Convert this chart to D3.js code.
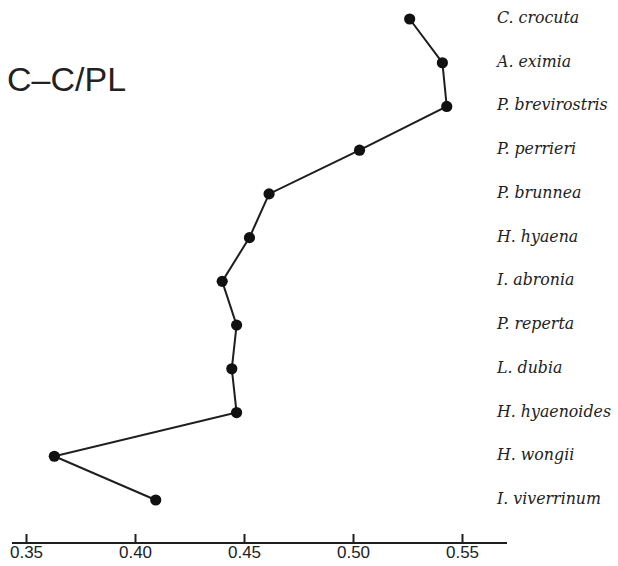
<!DOCTYPE html>
<html>
<head>
<meta charset="utf-8">
<script src="https://cdn.jsdelivr.net/npm/d3@7"></script>
<style>
  html, body { margin: 0; padding: 0; background: #fff; }
  svg { display: block; }
</style>
</head>
<body>
<svg id="chart" width="618" height="566"></svg>
<script>
// Species, top to bottom
const species = [
  "C. crocuta", "A. eximia", "P. brevirostris", "P. perrieri",
  "P. brunnea", "H. hyaena", "I. abronia", "P. reperta",
  "L. dubia", "H. hyaenoides", "H. wongii", "I. viverrinum"
];
// C–C/PL ratio for each species
const ratio = [
  0.526, 0.541, 0.543, 0.503,
  0.4615, 0.4525, 0.440, 0.4466,
  0.4444, 0.4466, 0.363, 0.4095
];
const tickValues = [0.35, 0.40, 0.45, 0.50, 0.55];
const title = "C\u2013C/PL";

const svg = d3.select("#chart");
const ink = "#1e1e1e";

const x = d3.scaleLinear().domain([0.35, 0.55]).range([26, 462]);
const y = d3.scalePoint().domain(species).range([19, 500]);

const data = species.map((s, i) => ({ s, v: ratio[i] }));

// Title
svg.append("text")
  .attr("x", 7).attr("y", 91)
  .attr("font-family", "Liberation Sans, Arial, sans-serif")
  .attr("font-size", 34)
  .attr("fill", "#222")
  .text(title);

// Connecting line
svg.append("path")
  .datum(data)
  .attr("fill", "none")
  .attr("stroke", ink)
  .attr("stroke-width", 2)
  .attr("d", d3.line().x(d => x(d.v)).y(d => y(d.s)));

// Points
svg.selectAll("circle.pt")
  .data(data)
  .join("circle")
  .attr("class", "pt")
  .attr("cx", d => x(d.v))
  .attr("cy", d => y(d.s))
  .attr("r", 5.6)
  .attr("fill", "#111");

// Species labels
svg.selectAll("text.sp")
  .data(data)
  .join("text")
  .attr("class", "sp")
  .attr("x", 497)
  .attr("y", d => y(d.s) + 4)
  .attr("font-family", "DejaVu Serif, serif")
  .attr("font-style", "italic")
  .attr("font-size", 15.8)
  .attr("fill", "#222")
  .text(d => d.s);

// Bottom axis
const axisY = 543;
const axis = d3.axisBottom(x)
  .tickValues(tickValues)
  .tickFormat(d3.format(".2f"))
  .tickSizeInner(-9)
  .tickSizeOuter(0);

const g = svg.append("g")
  .attr("transform", `translate(0,${axisY})`)
  .call(axis);

g.select(".domain").remove();
g.append("line")
  .attr("x1", 12).attr("x2", 507)
  .attr("y1", 0).attr("y2", 0)
  .attr("stroke", ink)
  .attr("stroke-width", 2.2);
g.selectAll(".tick line")
  .attr("stroke", ink)
  .attr("stroke-width", 2);
g.selectAll(".tick text")
  .attr("y", 3)
  .attr("dy", "0.71em")
  .attr("font-family", "Liberation Sans, Arial, sans-serif")
  .attr("font-size", 17)
  .attr("fill", "#222");
</script>
</body>
</html>
